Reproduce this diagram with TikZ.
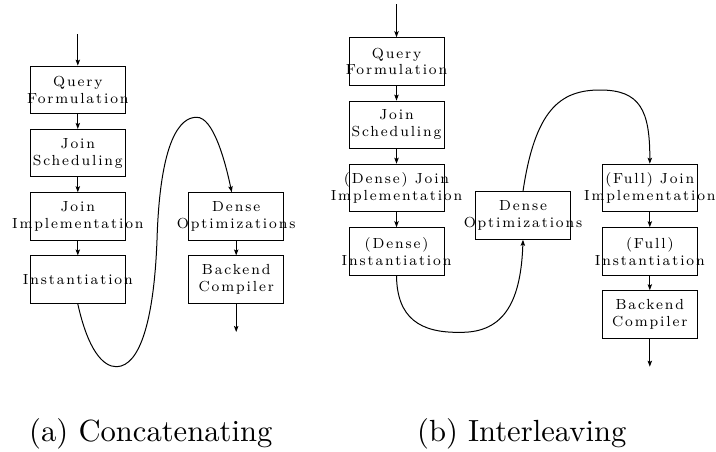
\documentclass[tikz,border=0pt]{standalone}
\usepackage{fontspec}
\usetikzlibrary{arrows.meta,calc}

% Latin Modern, letter-spaced for the stage labels
\newfontfamily\stagefont{lmroman8-regular.otf}[LetterSpace=13]
\newfontfamily\captionfont{lmroman10-regular.otf}

\tikzset{
  stepbox/.style={draw, line width=0.5pt, minimum width=47.5pt, minimum height=23.75pt, inner sep=0pt},
  boxtext/.style={inner sep=0pt, align=center,
    font=\stagefont\fontsize{7.3}{8.4}\selectfont},
  flow/.style={line width=0.5pt, -{Stealth[length=3pt,width=2.2pt,inset=0.6pt]}},
  caption/.style={inner sep=0pt, anchor=base, font=\captionfont\fontsize{15.3}{18}\selectfont}
}
\newcommand{\stage}[4]{%
  \node[stepbox, label={[boxtext]center:{#4}}] (#1) at (#2,#3) {};}

\begin{document}
\begin{tikzpicture}[x=0.5pt,y=-0.5pt]
\useasboundingbox (0,0) rectangle (716,451);

% (a) concatenating pipeline
\stage{lq}{77.8}{89.9}{Query\\Formulation}
\stage{ljs}{77.8}{153.2}{Join\\Scheduling}
\stage{lji}{77.8}{216.5}{Join\\Implementation}
\stage{lin}{77.8}{279.7}{Instantiation}
\stage{ldo}{236.2}{216.5}{Dense\\Optimizations}
\stage{lbc}{236.2}{279.7}{Backend\\Compiler}
\coordinate (ltop) at (77.8,34);
\coordinate (lend) at (236.2,332);

\draw[flow] (ltop) -- (lq);
\draw[flow] (lq) -- (ljs);
\draw[flow] (ljs) -- (lji);
\draw[flow] (lji) -- (lin);
\draw[flow] (lin.south) .. controls (88,350) and (103,367) .. (116.7,366.7)
  .. controls (140,366) and (154,320) .. (157,240)
  .. controls (160,140) and (180,117) .. (196.7,117.3)
  .. controls (213,117) and (225,160) .. ($(ldo.north)+(-4.5,0)$);
\draw[flow] (ldo) -- (lbc);
\draw[flow] (lbc) -- (lend);

% (b) interleaving pipeline
\stage{rq}{396.5}{61.5}{Query\\Formulation}
\stage{rjs}{396.5}{124.9}{Join\\Scheduling}
\stage{rdj}{396.5}{188}{(Dense) Join\\Implementation}
\stage{rdi}{396.5}{251.5}{(Dense)\\Instantiation}
\stage{rdo}{523}{215.5}{Dense\\Optimizations}
\stage{rfj}{649.8}{188}{(Full) Join\\Implementation}
\stage{rfi}{649.8}{251.5}{(Full)\\Instantiation}
\stage{rbc}{649.8}{314.5}{Backend\\Compiler}
\coordinate (rtop) at (396.5,4);
\coordinate (rend) at (649.8,366.7);

\draw[flow] (rtop) -- (rq);
\draw[flow] (rq) -- (rjs);
\draw[flow] (rjs) -- (rdj);
\draw[flow] (rdj) -- (rdi);
\draw[flow] (rdi.south) .. controls (397,318) and (420,333) .. (460,332.3)
  .. controls (505,333) and (521,300) .. (rdo.south);
\draw[flow] (rdo.north) .. controls (535,110) and (560,90) .. (600,90)
  .. controls (640,90) and (650,110) .. (rfj.north);
\draw[flow] (rfj) -- (rfi);
\draw[flow] (rfi) -- (rbc);
\draw[flow] (rbc) -- (rend);

% captions
\node[caption] (capa) at (150.8,441.7) {(a) Concatenating};
\node[caption] (capb) at (521.7,441.7) {(b) Interleaving};
\end{tikzpicture}
\end{document}
